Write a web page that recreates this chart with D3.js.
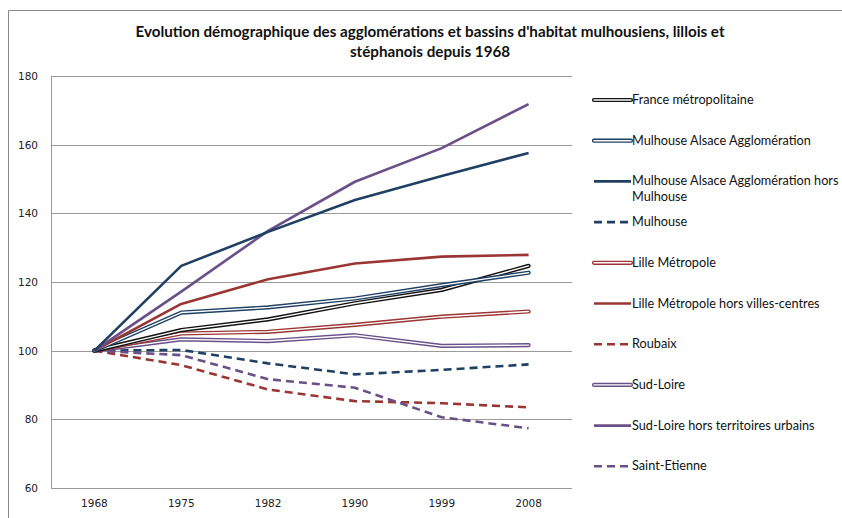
<!DOCTYPE html>
<html>
<head>
<meta charset="utf-8">
<script src="https://cdn.jsdelivr.net/npm/d3@7"></script>
<style>
  body { margin: 0; background: #fff; overflow: hidden; }
  svg { display: block; }
</style>
</head>
<body>
<svg id="chart" width="842" height="518" viewBox="0 0 842 518"></svg>
<script>
const years = ["1968", "1975", "1982", "1990", "1999", "2008"];
const yTicks = [60, 80, 100, 120, 140, 160, 180];
const titleLines = [
  "Evolution démographique des agglomérations et bassins d'habitat mulhousiens, lillois et",
  "stéphanois depuis 1968"
];

const franceMetro = [100, 106.0, 109.1, 113.8, 117.7, 124.7];
const mulhouseAgglo = [100, 111.1, 112.6, 115.2, 119.1, 122.7];
const mulhouseAggloHors = [100, 124.7, 134.6, 143.9, 150.9, 157.6];
const mulhouse = [100, 100.2, 96.3, 93.1, 94.4, 96.0];
const lilleMetro = [100, 105.0, 105.5, 107.5, 109.9, 111.4];
const lilleMetroHors = [100, 113.6, 120.8, 125.4, 127.4, 127.9];
const roubaix = [100, 95.8, 88.7, 85.3, 84.7, 83.5];
const sudLoire = [100, 103.3, 102.8, 104.5, 101.4, 101.6];
const sudLoireHors = [100, 117.2, 134.9, 149.2, 159.0, 171.8];
const saintEtienne = [100, 98.7, 91.7, 89.2, 80.6, 77.4];

const blue = "#1f3f63";
const red = "#9b3533";
const purple = "#6a5088";

const series = [
  { name: ["France métropolitaine"], values: franceMetro, color: "#111", type: "double" },
  { name: ["Mulhouse Alsace Agglomération"], values: mulhouseAgglo, color: blue, type: "double" },
  { name: ["Mulhouse Alsace Agglomération hors", "Mulhouse"], values: mulhouseAggloHors, color: blue, type: "solid" },
  { name: ["Mulhouse"], values: mulhouse, color: blue, type: "dash" },
  { name: ["Lille Métropole"], values: lilleMetro, color: red, type: "double" },
  { name: ["Lille Métropole hors villes-centres"], values: lilleMetroHors, color: red, type: "solid" },
  { name: ["Roubaix"], values: roubaix, color: red, type: "dash" },
  { name: ["Sud-Loire"], values: sudLoire, color: purple, type: "double" },
  { name: ["Sud-Loire hors territoires urbains"], values: sudLoireHors, color: purple, type: "solid" },
  { name: ["Saint-Etienne"], values: saintEtienne, color: purple, type: "dash" }
];

const svg = d3.select("#chart");
const margin = { top: 76, left: 51 };
const innerWidth = 521;
const innerHeight = 412;

// outer frame (only top and left edges fall inside the picture)
svg.append("path")
  .attr("d", "M8.5,518V10.5H842")
  .attr("fill", "none").attr("stroke", "#888").attr("stroke-width", 1);

svg.selectAll("text.title")
  .data(titleLines)
  .join("text")
  .attr("class", "title")
  .attr("x", 430)
  .attr("y", (d, i) => 37 + i * 20)
  .attr("text-anchor", "middle")
  .attr("font-family", "Lato, 'Open Sans', sans-serif")
  .attr("font-weight", "bold").attr("font-size", 15.2)
  .attr("fill", "#111")
  .text(d => d);

const xScale = d3.scaleBand().domain(years).range([0, innerWidth]);
const yScale = d3.scaleLinear().domain([60, 180]).range([innerHeight, 0]);

const g = svg.append("g").attr("transform", `translate(${margin.left},${margin.top})`);

// gridlines
g.selectAll("line.grid")
  .data(yTicks)
  .join("line")
  .attr("class", "grid")
  .attr("x1", 0).attr("x2", innerWidth)
  .attr("y1", d => Math.round(yScale(d)) + 0.5)
  .attr("y2", d => Math.round(yScale(d)) + 0.5)
  .attr("stroke", "#9a9a9a").attr("stroke-width", 1);

g.append("line")
  .attr("x1", 0.5).attr("x2", 0.5)
  .attr("y1", 0).attr("y2", innerHeight + 1)
  .attr("stroke", "#9a9a9a");

const yAxis = g.append("g").call(d3.axisLeft(yScale).tickValues(yTicks).tickSize(0).tickPadding(13));
const xAxis = g.append("g")
  .attr("transform", `translate(0,${innerHeight})`)
  .call(d3.axisBottom(xScale).tickSize(0).tickPadding(12));
[yAxis, xAxis].forEach(a => {
  a.select(".domain").remove();
  a.selectAll("text")
    .attr("font-family", "'DejaVu Sans', Verdana, sans-serif")
    .attr("font-size", 10.5)
    .attr("fill", "#222");
});

const line = d3.line()
  .x((d, i) => xScale(years[i]) + xScale.bandwidth() / 2)
  .y(d => yScale(d));

const drawStyled = (sel, s, pathAttr) => {
  if (s.type === "double") {
    sel.append("path").call(pathAttr)
      .attr("fill", "none").attr("stroke", s.color).attr("stroke-width", 4.2)
      .attr("stroke-linejoin", "round").attr("stroke-linecap", "round");
    sel.append("path").call(pathAttr)
      .attr("fill", "none").attr("stroke", "#fff").attr("stroke-width", 1.4)
      .attr("stroke-linejoin", "round").attr("stroke-linecap", "round");
  } else {
    sel.append("path").call(pathAttr)
      .attr("fill", "none").attr("stroke", s.color).attr("stroke-width", 2.6)
      .attr("stroke-linejoin", "round")
      .attr("stroke-dasharray", s.type === "dash" ? "8,5" : null);
  }
};

// draw lines (dashed first, then others)
const order = [3, 6, 9, 7, 4, 0, 1, 5, 8, 2];
order.forEach(i => {
  const s = series[i];
  drawStyled(g.append("g"), s, p => p.attr("d", line(s.values)));
});

// legend
const legend = svg.append("g").attr("transform", "translate(594,100)");
series.forEach((s, i) => {
  const item = legend.append("g").attr("transform", `translate(0,${i * 40.7})`);
  drawStyled(item, s, p => p.attr("d", "M0,0H37"));
  item.selectAll("text")
    .data(s.name)
    .join("text")
    .attr("x", 38)
    .attr("y", (d, j) => 4 + j * 16)
    .attr("font-family", "Lato, 'Open Sans', sans-serif")
    .attr("font-size", 12.7)
    .attr("fill", "#111")
    .text(d => d);
});
</script>
</body>
</html>
